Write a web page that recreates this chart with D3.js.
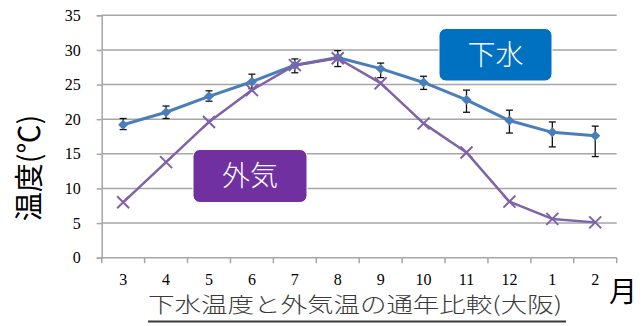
<!DOCTYPE html>
<html>
<head>
<meta charset="utf-8">
<script src="https://cdn.jsdelivr.net/npm/d3@7"></script>
<style>
  html, body { margin: 0; padding: 0; background: #fff; }
  svg { display: block; }
</style>
</head>
<body>
<svg id="chart" width="644" height="326"></svg>
<script>
// Months from March through February
const months = ["3", "4", "5", "6", "7", "8", "9", "10", "11", "12", "1", "2"];
// Sewage water temperature (°C) with the range shown by the error bars
const sewageTemp = [19.2, 21.0, 23.3, 25.4, 27.8, 28.9, 27.3, 25.3, 22.8, 19.8, 18.1, 17.6];
const sewageHigh = [20.1, 21.9, 24.1, 26.5, 28.7, 29.9, 28.1, 26.2, 24.2, 21.3, 19.6, 19.0];
const sewageLow  = [18.5, 20.1, 22.6, 24.4, 26.7, 27.6, 26.0, 24.3, 21.0, 18.0, 16.0, 14.6];
// Outdoor air temperature (°C)
const airTemp = [8.0, 13.8, 19.6, 24.2, 27.8, 28.8, 25.2, 19.4, 15.2, 8.1, 5.6, 5.1];
// Value axis ticks
const yTicks = [0, 5, 10, 15, 20, 25, 30, 35];

const svg = d3.select("#chart");
const plot = { left: 101.7, right: 616.7, top: 15.3, bottom: 257.7 };

const x = d3.scaleBand().domain(months).range([plot.left, plot.right]).padding(0);
const y = d3.scaleLinear().domain([0, 35]).range([plot.bottom, plot.top]);
const cx = m => x(m) + x.bandwidth() / 2;

const gridColor = "#a6a6a6";
const blue = "#4a7ebb";
const purple = "#7f62a8";

// Horizontal grid lines
svg.append("g")
  .selectAll("line")
  .data(yTicks.filter(t => t > 0))
  .join("line")
  .attr("x1", plot.left).attr("x2", plot.right)
  .attr("y1", d => y(d)).attr("y2", d => y(d))
  .attr("stroke", gridColor).attr("stroke-width", 1.5);

// Y axis
const yAxis = svg.append("g")
  .attr("transform", `translate(${plot.left},0)`)
  .call(d3.axisLeft(y).tickValues(yTicks).tickSize(5).tickPadding(16));
yAxis.select(".domain").attr("stroke", gridColor).attr("stroke-width", 1.5);
yAxis.selectAll(".tick line").attr("stroke", gridColor).attr("stroke-width", 1.5);
yAxis.selectAll(".tick text")
  .attr("font-family", "'Liberation Serif', 'Times New Roman', serif")
  .attr("font-size", 16).attr("fill", "#000");

// X axis: baseline with tick marks on band boundaries, labels centred in bands
const xAxis = svg.append("g");
xAxis.append("line")
  .attr("x1", plot.left).attr("x2", plot.right)
  .attr("y1", y(0)).attr("y2", y(0))
  .attr("stroke", gridColor).attr("stroke-width", 1.5);
const boundaries = months.map(m => x(m)).concat([x(months[months.length - 1]) + x.bandwidth()]);
xAxis.selectAll("line.tick")
  .data(boundaries)
  .join("line")
  .attr("class", "tick")
  .attr("x1", d => d).attr("x2", d => d)
  .attr("y1", y(0)).attr("y2", y(0) + 5.5)
  .attr("stroke", gridColor).attr("stroke-width", 1.5);
xAxis.selectAll("text")
  .data(months)
  .join("text")
  .attr("x", d => cx(d))
  .attr("y", y(0) + 27)
  .attr("text-anchor", "middle")
  .attr("font-family", "'Liberation Serif', 'Times New Roman', serif")
  .attr("font-size", 16).attr("fill", "#000")
  .text(d => d);

// Sewage temperature line
const line = d3.line().x((d, i) => cx(months[i])).y(d => y(d));
svg.append("path")
  .datum(sewageTemp)
  .attr("d", line)
  .attr("fill", "none").attr("stroke", blue).attr("stroke-width", 3)
  .attr("stroke-linejoin", "round");

// Error bars
const eb = svg.append("g").attr("stroke", "#111").attr("stroke-width", 1.3);
months.forEach((m, i) => {
  const px = cx(m);
  eb.append("line").attr("x1", px).attr("x2", px)
    .attr("y1", y(sewageHigh[i])).attr("y2", y(sewageLow[i]));
  [sewageHigh[i], sewageLow[i]].forEach(v => {
    eb.append("line").attr("x1", px - 3.5).attr("x2", px + 3.5)
      .attr("y1", y(v)).attr("y2", y(v));
  });
});

// Diamond markers
svg.append("g")
  .selectAll("path")
  .data(sewageTemp)
  .join("path")
  .attr("transform", (d, i) => `translate(${cx(months[i])},${y(d)})`)
  .attr("d", "M0,-5L5,0L0,5L-5,0Z")
  .attr("fill", blue);

// Air temperature line
svg.append("path")
  .datum(airTemp)
  .attr("d", line)
  .attr("fill", "none").attr("stroke", purple).attr("stroke-width", 2.5)
  .attr("stroke-linejoin", "round");

// Cross markers
svg.append("g")
  .selectAll("path")
  .data(airTemp)
  .join("path")
  .attr("transform", (d, i) => `translate(${cx(months[i])},${y(d)})`)
  .attr("d", "M-6,-6L6,6M-6,6L6,-6")
  .attr("stroke", purple).attr("stroke-width", 2);

// Series labels in rounded boxes
function labelBox(text, x0, y0, w, h, fill) {
  const g = svg.append("g");
  g.append("rect")
    .attr("x", x0).attr("y", y0).attr("width", w).attr("height", h)
    .attr("rx", 7).attr("ry", 7)
    .attr("fill", fill).attr("stroke", "#ffffff").attr("stroke-width", 1);
  g.append("text")
    .attr("x", x0 + w / 2).attr("y", y0 + h / 2 + 10)
    .attr("text-anchor", "middle")
    .attr("font-family", "'Noto Sans CJK JP', sans-serif")
    .attr("font-size", 28).attr("font-weight", 300).attr("fill", "#fff")
    .text(text);
}
labelBox("下水", 439, 28.5, 113, 52.5, "#0070c0");
labelBox("外気", 193, 149.5, 114, 53, "#7030a0");

// Axis titles
svg.append("text")
  .attr("transform", "translate(40,168) rotate(-90)")
  .attr("text-anchor", "middle")
  .attr("font-family", "'Noto Sans CJK JP', sans-serif")
  .attr("font-size", 29).attr("fill", "#000")
  .text("温度(℃)");

svg.append("text")
  .attr("x", 623).attr("y", 302)
  .attr("text-anchor", "middle")
  .attr("font-family", "'Noto Sans CJK JP', sans-serif")
  .attr("font-size", 28).attr("fill", "#000")
  .text("月");

// Chart title, underlined
svg.append("text")
  .attr("x", 148).attr("y", 312)
  .attr("font-family", "'Noto Sans CJK JP', sans-serif")
  .attr("font-size", 21).attr("font-weight", 300).attr("fill", "#3a3a3a")
  .attr("textLength", 414).attr("lengthAdjust", "spacingAndGlyphs")
  .text("下水温度と外気温の通年比較(大阪)");
svg.append("line")
  .attr("x1", 148).attr("x2", 566)
  .attr("y1", 321.5).attr("y2", 321.5)
  .attr("stroke", "#3a3a3a").attr("stroke-width", 2);
</script>
</body>
</html>
